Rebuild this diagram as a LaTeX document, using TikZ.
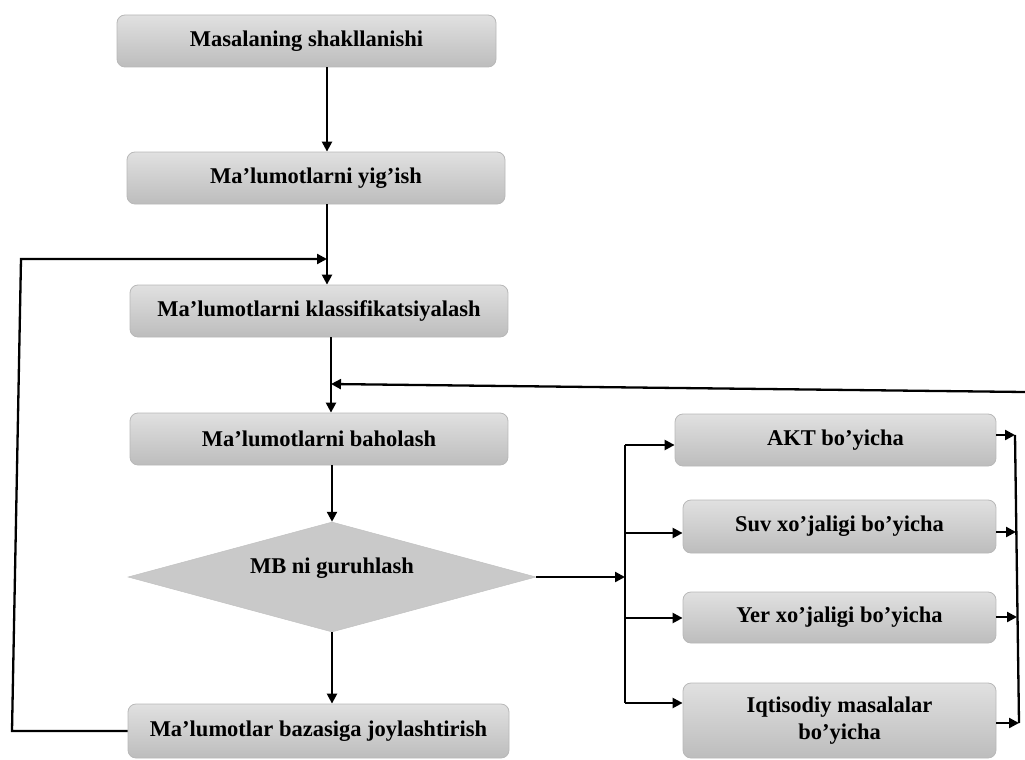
\documentclass[tikz,border=0pt]{standalone}
\usepackage{fontspec}
\setmainfont{Liberation Serif}
\usetikzlibrary{arrows.meta,shapes.geometric}

\begin{document}
\begin{tikzpicture}[x=1pt,y=-1pt,
  txt/.style={font=\fontsize{22.5}{27}\selectfont\bfseries, align=center, text=black},
  box/.style={txt, draw=black!28, line width=0.8pt, rounded corners=8pt,
    top color=black!12, bottom color=black!26, inner sep=0pt},
  dia/.style={diamond, fill=black!21, draw=black!24, line width=0.5pt, inner sep=0pt,
    minimum width=408pt, minimum height=110pt},
  line/.style={line width=2.3pt, draw=black},
  arr/.style={line, -{Triangle[length=10pt,width=10pt]}}
]
\useasboundingbox (0,0) rectangle (1025,760);

% main column
\node[box, minimum width=379pt, minimum height=52pt] (b1) at (306.5,41) {Masalaning shakllanishi};
\node[box, minimum width=378pt, minimum height=52pt] (b2) at (316,178) {Ma’lumotlarni yig’ish};
\node[box, minimum width=378pt, minimum height=52pt] (b3) at (319,311) {Ma’lumotlarni klassifikatsiyalash};
\node[box, minimum width=378pt, minimum height=52pt] (b4) at (319,439) {Ma’lumotlarni baholash};
\node[dia] (d) at (332,577) {};
\node[txt] (dt) at (332,568) {MB ni guruhlash};
\node[box, minimum width=381pt, minimum height=54pt] (b5) at (318.5,731) {Ma’lumotlar bazasiga joylashtirish};

% branch boxes
\node[box, minimum width=321pt, minimum height=52pt] (r1) at (835.5,440) {AKT bo’yicha};
\node[box, minimum width=313pt, minimum height=53pt] (r2) at (839.5,526.5) {Suv xo’jaligi bo’yicha};
\node[box, minimum width=313pt, minimum height=51pt] (r3) at (839.5,617.5) {Yer xo’jaligi bo’yicha};
\node[box, minimum width=313pt, minimum height=75pt] (r4) at (839.5,720.5) {Iqtisodiy masalalar\\bo’yicha};

% junction points
\coordinate (s1) at (327,0);
\coordinate (s2) at (331,0);
\coordinate (lp1) at (12,731);
\coordinate (lp2) at (21,259);
\coordinate (j1) at (327,259);
\coordinate (rt) at (1025,392);
\coordinate (j2) at (331,384);
\coordinate (lb) at (625,577);
\coordinate (q1) at (625,445);
\coordinate (q2) at (625,533);
\coordinate (q3) at (625,618);
\coordinate (q4) at (625,703);
\coordinate (p1) at (1015,435);
\coordinate (p2) at (1016,532);
\coordinate (p3) at (1017,617);
\coordinate (p4) at (1019,723);

% main flow
\draw[arr] (b1.south -| s1) -- (b2.north -| s1);
\draw[arr] (b2.south -| s1) -- (b3.north -| s1);
\draw[arr] (b3.south -| s2) -- (b4.north -| s2);
\draw[arr] (b4.south -| d.north) -- (d.north);
\draw[arr] (d.south) -- (b5.north -| d.south);

% feedback loop on the left
\draw[arr] (b5.west) -- (lp1) -- (lp2) -- (j1);

% return line from the right
\draw[arr] (rt) -- (j2);

% distribution to branch boxes
\draw[arr] (d.east) -- (lb);
\draw[line] (q1) -- (q4);
\draw[arr] (q1) -- (q1 -| r1.west);
\draw[arr] (q2) -- (q2 -| r2.west);
\draw[arr] (q3) -- (q3 -| r3.west);
\draw[arr] (q4) -- (q4 -| r4.west);

% collection on the right
\draw[line] (p1) -- (p4);
\draw[arr] (p1 -| r1.east) -- (p1);
\draw[arr] (p2 -| r2.east) -- (p2);
\draw[arr] (p3 -| r3.east) -- (p3);
\draw[arr] (p4 -| r4.east) -- (p4);
\end{tikzpicture}
\end{document}
